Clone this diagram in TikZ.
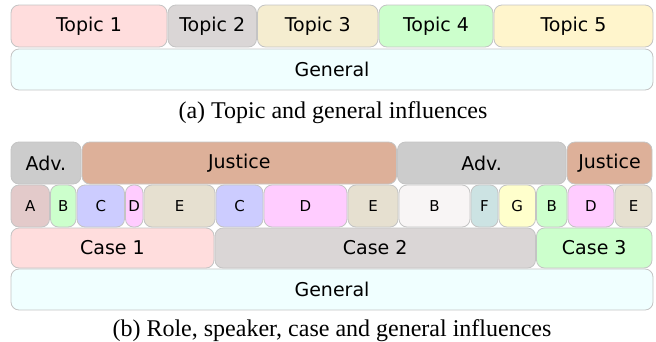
\documentclass[tikz,border=0pt]{standalone}
\usepackage{fontspec}
\setmainfont{DejaVu Sans}
\newfontfamily\capfont{Liberation Serif}
\definecolor{bordc}{HTML}{C4C4C4}
\definecolor{cPink}{HTML}{FFDDDD}
\definecolor{cGray}{HTML}{DAD6D6}
\definecolor{cBeige}{HTML}{F5EDD0}
\definecolor{cGreen}{HTML}{CCFFCC}
\definecolor{cYell}{HTML}{FFF5CC}
\definecolor{cGen}{HTML}{F0FFFF}
\definecolor{cAdv}{HTML}{CCCCCC}
\definecolor{cJus}{HTML}{DDB099}
\definecolor{cA}{HTML}{E3CACA}
\definecolor{cC}{HTML}{CCCCFF}
\definecolor{cD}{HTML}{FFCCFF}
\definecolor{cE}{HTML}{E6E0D0}
\definecolor{cB2}{HTML}{F8F5F5}
\definecolor{cF}{HTML}{CCE3E3}
\definecolor{cG}{HTML}{FFFFCC}
\tikzset{
  rbox/.style={draw=bordc, line width=0.8pt, rounded corners=8pt, inner sep=0pt, outer sep=0pt},
  big/.style={font=\fontsize{19}{22}\selectfont},
  small/.style={font=\fontsize{15}{18}\selectfont},
  captxt/.style={font=\capfont\fontsize{24}{28}\selectfont, inner sep=0pt}
}
% \bx{name}{x1}{y1}{x2}{y2}{fill}{style}{text}
\newcommand{\bx}[8]{%
  \node[rbox,#7,fill=#6,minimum width={(#4-#2)*1pt},minimum height={(#5-#3)*1pt}]
    (#1) at ({(#2+#4)/2},{(#3+#5)/2}) {#8};}
\begin{document}
\begin{tikzpicture}[x=1pt,y=-1pt]
\useasboundingbox (0,0) rectangle (656,341);
% (a)
\bx{t1}{11}{5}{167}{47}{cPink}{big}{Topic 1}
\bx{t2}{168}{5}{256.5}{47}{cGray}{big}{Topic 2}
\bx{t3}{257.5}{5}{378}{47}{cBeige}{big}{Topic 3}
\bx{t4}{379}{5}{493}{47}{cGreen}{big}{Topic 4}
\bx{t5}{494}{5}{653}{47}{cYell}{big}{Topic 5}
\bx{ga}{11}{49}{653}{90}{cGen}{big}{General}
\node[captxt] (capa) at (333,113) {(a) Topic and general influences};
% (b) roles
\bx{r1}{11}{142}{81}{184}{cAdv}{big}{Adv.}
\bx{r2}{82}{142}{396.5}{184}{cJus}{big}{Justice}
\bx{r3}{397.5}{142}{566}{184}{cAdv}{big}{Adv.}
\bx{r4}{567}{142}{652}{184}{cJus}{big}{Justice}
% speakers
\bx{s1}{11}{185}{49.5}{227}{cA}{small}{A}
\bx{s2}{50.5}{185}{76}{227}{cGreen}{small}{B}
\bx{s3}{77}{185}{124.5}{227}{cC}{small}{C}
\bx{s4}{125.5}{185}{143}{227}{cD}{small}{D}
\bx{s5}{144}{185}{215}{227}{cE}{small}{E}
\bx{s6}{216}{185}{263}{227}{cC}{small}{C}
\bx{s7}{264}{185}{347}{227}{cD}{small}{D}
\bx{s8}{348}{185}{398}{227}{cE}{small}{E}
\bx{s9}{399}{185}{470}{227}{cB2}{small}{B}
\bx{s10}{471}{185}{498}{227}{cF}{small}{F}
\bx{s11}{499}{185}{535.5}{227}{cG}{small}{G}
\bx{s12}{536.5}{185}{567}{227}{cGreen}{small}{B}
\bx{s13}{568}{185}{614}{227}{cD}{small}{D}
\bx{s14}{615}{185}{652}{227}{cE}{small}{E}
% cases
\bx{c1}{11}{228}{214}{268}{cPink}{big}{Case 1}
\bx{c2}{215}{228}{535.5}{268}{cGray}{big}{Case 2}
\bx{c3}{536.5}{228}{652}{268}{cGreen}{big}{Case 3}
\bx{gb}{11}{269}{653}{310}{cGen}{big}{General}
\node[captxt] (capb) at (332,331) {(b) Role, speaker, case and general influences};
\end{tikzpicture}
\end{document}
